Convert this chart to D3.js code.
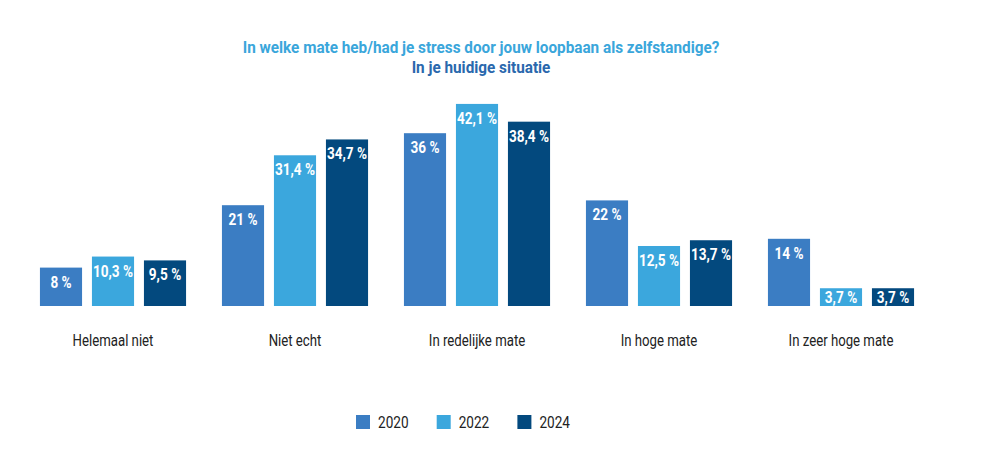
<!DOCTYPE html>
<html lang="nl">
<head>
  <meta charset="utf-8">
  <title>Stress door loopbaan als zelfstandige</title>
  <script src="https://d3js.org/d3.v7.min.js"></script>
  <style>
    body { margin: 0; background: #fff; }
    text { font-family: Roboto, "Noto Sans", sans-serif; }
  </style>
</head>
<body>
<div id="chart"></div>
<script>
const categories = ["Helemaal niet", "Niet echt", "In redelijke mate", "In hoge mate", "In zeer hoge mate"];
const years = ["2020", "2022", "2024"];
const values2020 = [8, 21, 36, 22, 14];
const values2022 = [10.3, 31.4, 42.1, 12.5, 3.7];
const values2024 = [9.5, 34.7, 38.4, 13.7, 3.7];
const colors = ["#3b7dc3", "#3ba7dd", "#03497e"];

const width = 998, height = 452;
const baseline = 306;
const narrow = 0.8; // condensed look: no narrow font is installed

const series = [values2020, values2022, values2024];
let data = [];
categories.forEach((c, i) => {
  years.forEach((yr, j) => data.push({cat: c, year: yr, value: series[j][i]}));
});

let x0 = d3.scaleBand()
    .domain(categories)
    .range([22, 932]);
let x1 = d3.scaleBand()
    .domain(years)
    .range([0, x0.bandwidth()])
    .paddingInner(0.19)
    .paddingOuter(0.345);
let y = d3.scaleLinear()
    .domain([0, 45])
    .range([baseline, baseline - 216]);
let color = d3.scaleOrdinal(years, colors);
const fmt = v => String(v).replace(".", ",") + " %";

let svg = d3.select("#chart").append("svg")
    .attr("width", width)
    .attr("height", height);

// title
const titles = [
  {text: "In welke mate heb/had je stress door jouw loopbaan als zelfstandige?", y: 53, fill: "#3aa6db"},
  {text: "In je huidige situatie", y: 73, fill: "#2a68ad"}
];
svg.append("g").selectAll("text")
  .data(titles)
  .join("text")
    .attr("transform", d => `translate(481,${d.y}) scale(0.9,1)`)
    .attr("text-anchor", "middle")
    .style("font-size", "17px").style("font-weight", "bold")
    .style("fill", d => d.fill)
    .text(d => d.text);

// bars
svg.append("g")
  .selectAll("rect")
  .data(data)
  .join("rect")
    .attr("x", d => x0(d.cat) + x1(d.year))
    .attr("y", d => y(d.value))
    .attr("width", x1.bandwidth())
    .attr("height", d => baseline - y(d.value))
    .style("fill", d => color(d.year));

// value labels inside the bars
svg.append("g")
  .selectAll("text")
  .data(data)
  .join("text")
    .attr("transform", d => `translate(${x0(d.cat) + x1(d.year) + x1.bandwidth()/2},${Math.min(y(d.value) + 14, (y(d.value) + baseline)/2)}) scale(${narrow},1)`)
    .attr("dy", "0.35em")
    .attr("text-anchor", "middle")
    .style("font-size", "17px").style("font-weight", "bold")
    .style("fill", "#fff")
    .text(d => fmt(d.value));

// category axis
let xAxis = d3.axisBottom(x0).tickSize(0).tickPadding(0);
svg.append("g")
    .attr("transform", `translate(0,${baseline + 34})`)
    .call(xAxis)
    .attr("font-family", null)
    .attr("font-size", null)
    .call(g => g.select(".domain").remove())
    .call(g => g.selectAll("text")
        .attr("dy", "0.35em")
        .attr("transform", `scale(${narrow},1)`)
        .style("font-size", "16.5px")
        .style("fill", "#222"));

// legend
let legend = svg.append("g")
    .attr("transform", "translate(356,415)")
  .selectAll(".legend")
  .data(years)
  .join("g")
    .attr("class", "legend")
    .attr("transform", (d, i) => `translate(${i*80.7},0)`);

legend.append("rect")
    .attr("width", 14)
    .attr("height", 14)
    .style("fill", d => color(d));

legend.append("text")
    .attr("transform", `translate(22,7) scale(${narrow},1)`)
    .attr("dy", "0.35em")
    .style("font-size", "17px")
    .style("fill", "#222")
    .text(d => d);
</script>
</body>
</html>
